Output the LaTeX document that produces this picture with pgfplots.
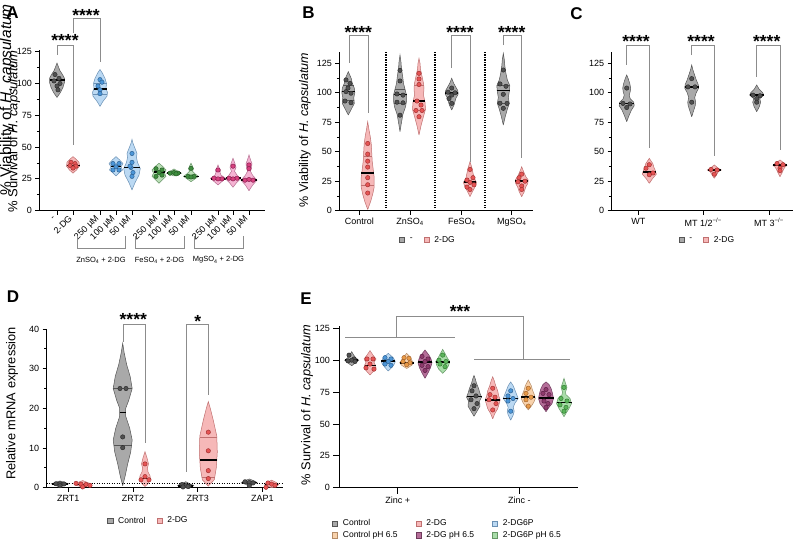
\documentclass[border=0pt]{standalone}
\usepackage{pgfplots}
\pgfplotsset{compat=1.18}
\usepackage{fontspec}
\setmainfont{Liberation Sans}

\definecolor{gfill}{HTML}{A9A9A9}\definecolor{gedge}{HTML}{555555}
\definecolor{gpt}{HTML}{505050}\definecolor{gptd}{HTML}{2A2A2A}
\definecolor{rfill}{HTML}{F6B8B8}\definecolor{redge}{HTML}{C07070}
\definecolor{rpt}{HTML}{E65454}\definecolor{rptd}{HTML}{9E2E2E}
\definecolor{bfill}{HTML}{BBD9F3}\definecolor{bedge}{HTML}{6A90B4}
\definecolor{bpt}{HTML}{4C96D8}\definecolor{bptd}{HTML}{2A5E90}
\definecolor{grfill}{HTML}{B8DDB4}\definecolor{gredge}{HTML}{6A966A}
\definecolor{grpt}{HTML}{3F8F3F}\definecolor{grptd}{HTML}{245A24}
\definecolor{mfill}{HTML}{F5B3D3}\definecolor{medge}{HTML}{B46E90}
\definecolor{mpt}{HTML}{D8407F}\definecolor{mptd}{HTML}{8A2050}
\definecolor{pfill}{HTML}{F8D2AC}\definecolor{pedge}{HTML}{B48C68}
\definecolor{ppt}{HTML}{E89A48}\definecolor{pptd}{HTML}{A0602A}
\definecolor{vfill}{HTML}{B56E99}\definecolor{vedge}{HTML}{6E3A5C}
\definecolor{vpt}{HTML}{8E3A6C}\definecolor{vptd}{HTML}{5A1E44}
\definecolor{lgfill}{HTML}{A9DDA9}\definecolor{lgedge}{HTML}{669866}
\definecolor{lgpt}{HTML}{5AB45A}\definecolor{lgptd}{HTML}{2E7A2E}
\definecolor{brk}{HTML}{8C8C8C}

\newcommand\vio[4]{%
  \gdef\vR{}\gdef\vL{}%
  \foreach \yy/\ww in {#4}{%
    \pgfmathsetmacro\xr{#1+\ww}%
    \pgfmathsetmacro\xl{#1-\ww}%
    \xdef\vR{\vR(\xr,\yy)}%
    \xdef\vL{(\xl,\yy)\vL}}%
  \edef\vtmp{\noexpand\addplot[fill=#2,draw=#3,line width=0.5pt] coordinates {\vR\vL};}%
  \vtmp}
\newcommand\hl[4]{%
  \pgfmathsetmacro\xa{#1-#2}\pgfmathsetmacro\xb{#1+#2}%
  \edef\vtmp{\noexpand\addplot[#4] coordinates {(\xa,#3)(\xb,#3)};}\vtmp}
\newcommand\pts[3]{\addplot[only marks,mark=*,mark size=2.2pt,mark options={fill=#1,draw=#2,line width=0.45pt}] coordinates {#3};}
\newcommand\lsq[2]{\addlegendimage{legend image code/.code={\draw[fill=#1,draw=#2,line width=0.5pt] (0pt,-2.6pt) rectangle (5.2pt,2.6pt);}}}

\pgfplotsset{
 panel/.style={scale only axis, anchor=south west, axis lines=left,
   axis line style={line width=1.3pt,-}, tick align=outside,
   major tick length=4pt, minor tick length=2.5pt,
   tick style={black,line width=0.9pt}, clip=false, ymin=0,
   tick label style={font=\fontsize{9}{10}\selectfont},
   /pgf/number format/assume math mode=true,
   legend style={draw=none, fill=none, font=\fontsize{8.5}{9}\selectfont, anchor=center,
     /tikz/every odd column/.append style={column sep=3pt},
     /tikz/every even column/.append style={column sep=9pt}},
   legend cell align=left},
 med/.style={black,line width=1.6pt},
 qt/.style={#1,line width=0.5pt},
}
\tikzset{stars/.style={font=\fontsize{17.5}{17.5}\selectfont\bfseries, anchor=base, inner sep=0pt}}

\begin{document}
\begin{tikzpicture}
\useasboundingbox (0,0) rectangle (799pt,547pt);

%%%%%%%%%%%%%%%% Panel A
\begin{axis}[panel, at={(39.5pt,336.3pt)}, width=225.5pt, height=160.3pt,
  xmin=39.5, xmax=265, ymax=126, ytick={0,25,...,125}, minor y tick num=1,
  xtick={57,73,100,116,132,159,174,191,218,233,249},
  xticklabels={-,2-DG,250 µM,100 µM,50 µM,250 µM,100 µM,50 µM,250 µM,100 µM,50 µM},
  xticklabel style={rotate=45,anchor=east}]
\vio{57}{gfill}{gedge}{89/0,93/3.5,97/6,101/7.5,104/7.5,107/5.5,110/3,113/1.5,116/0}
\pts{gpt}{gptd}{(55,107)(59,104)(54,102)(60,100)(57,98)(58,95)}
\hl{57}{7.5}{102.5}{med}
\vio{73}{rfill}{redge}{29.5/0,32/3.5,35/6.5,38/6,40.5/3,42.5/0}
\pts{rpt}{rptd}{(71,38)(75,37)(70,35.5)(76,35)(73,33.5)}
\hl{73}{6.5}{35.5}{med}
\vio{100}{bfill}{bedge}{82/0,86/3,90/7,93/7.5,96/6,100/6.5,104/5,108/2.5,111/0}
\hl{100}{7.2}{91.5}{qt=bedge}\hl{100}{6.5}{100}{qt=bedge}
\pts{bpt}{bptd}{(100,103)(102,101)(98,98)(100,95)(100,92)}
\hl{100}{6.5}{95.5}{med}
\vio{116}{bfill}{bedge}{27.3/0,30/3.5,32/6.5,34.5/5,37/7,40/3.5,42.5/0}
\pts{bpt}{bptd}{(113,37)(119,37)(116,34.5)(113,32)(119,32)}
\hl{116}{5.2}{34.6}{med}
\vio{132}{bfill}{bedge}{16.3/0,22/3,28/7,33/8.3,38/5.5,42/4.5,45/5,49/3,53/1,56/0}
\pts{bpt}{bptd}{(132,45)(132,38)(131,34)(133,30)(132,27)(130,35)}
\hl{132}{8}{34}{med}
\vio{159}{grfill}{gredge}{21.5/0,24/3,27/7,29.5/5.5,32/7,35/3.5,37.3/0}
\pts{grpt}{grptd}{(156,33)(162,32)(159,30)(156,27)(162,28)}
\hl{159}{5.5}{30.2}{med}
\vio{174}{grfill}{gredge}{27.3/0,28.5/4,29.5/7.5,30.5/5,32.8/0}
\pts{grpt}{grptd}{(170,29.5)(174,30)(178,29.5)(176,29)}
\hl{174}{7}{29.7}{med}
\vio{191}{grfill}{gredge}{22.8/0,25/4,27/7.5,29/4,31/1.5,33/2.5,35/1.5,37.3/0}
\pts{grpt}{grptd}{(191,33.3)(188,27)(194,27)(191,26.5)}
\hl{191}{7.5}{27}{med}
\vio{218}{mfill}{medge}{20.2/0,23/4,25.5/7.5,28/3,30/2,32/2.5,34/1,35.9/0}
\pts{mpt}{mptd}{(218,32)(214,25.5)(222,25)(218,25)}
\hl{218}{7.5}{25}{med}
\vio{233}{mfill}{medge}{18.4/0,22/3.5,25/7.5,28/4,31/1.5,34/3,37/2,41.2/0}
\pts{mpt}{mptd}{(233,35)(229,25.5)(237,25.5)(233,25)}
\hl{233}{7.5}{25.5}{med}
\vio{249}{mfill}{medge}{15.7/0,20/3.5,24/8,28/3.5,31/1.5,34/2.5,37/3,40/1.5,43.8/0}
\pts{mpt}{mptd}{(249,36)(249,33)(245,24)(253,24)(249,24.5)}
\hl{249}{8}{24}{med}
% brackets
\draw[brk,line width=0.8pt] (axis cs:57,122.4) -- (axis cs:57,130.3) -- (axis cs:73,130.3) -- (axis cs:73,51.7);
\draw[brk,line width=0.8pt] (axis cs:73,139.7) -- (axis cs:73,151.5) -- (axis cs:100,151.5) -- (axis cs:100,117);
\node[stars] at (axis cs:65,129) {****};
\node[stars] at (axis cs:86,148.7) {****};
% group brackets
\draw[brk,line width=0.8pt] (axis cs:77,-19.9) -- (axis cs:77,-29.3) -- (axis cs:125,-29.3) -- (axis cs:125,-19.9);
\draw[brk,line width=0.8pt] (axis cs:135,-19.9) -- (axis cs:135,-29.3) -- (axis cs:184,-29.3) -- (axis cs:184,-19.9);
\draw[brk,line width=0.8pt] (axis cs:194,-19.9) -- (axis cs:194,-29.3) -- (axis cs:243,-29.3) -- (axis cs:243,-19.9);
\node[font=\fontsize{7.5}{8}\selectfont] at (axis cs:101,-38.8) {ZnSO\textsubscript{4} + 2-DG};
\node[font=\fontsize{7.5}{8}\selectfont] at (axis cs:159.5,-38.8) {FeSO\textsubscript{4} + 2-DG};
\node[font=\fontsize{7.5}{8}\selectfont] at (axis cs:218.5,-38.8) {MgSO\textsubscript{4} + 2-DG};
\end{axis}

%%%%%%%%%%%%%%%% Panel B
\begin{axis}[panel, at={(339.3pt,336.3pt)}, width=193.7pt, height=159.2pt,
  xmin=339.3, xmax=533, ymax=135, ytick={0,25,...,125}, minor y tick num=1,
  xtick={359.3,410,461.7,511.7},
  xticklabels={Control,ZnSO\textsubscript{4},FeSO\textsubscript{4},MgSO\textsubscript{4}},
  legend columns=2, legend style={at={(0.458,-0.184)}},
  legend entries={-,2-DG}]
\lsq{gfill}{gedge}\lsq{rfill}{redge}
\addplot[black,line width=1.3pt,dash pattern=on 1.2pt off 1.3pt] coordinates {(386,0)(386,135)};
\addplot[black,line width=1.3pt,dash pattern=on 1.2pt off 1.3pt] coordinates {(435,0)(435,135)};
\addplot[black,line width=1.3pt,dash pattern=on 1.2pt off 1.3pt] coordinates {(485,0)(485,135)};
\vio{348.3}{gfill}{gedge}{81.2/0,86/3,91/6,96/5.5,100/6.5,104/6,108/4,112/3,115/1.5,117.9/0}
\hl{348.3}{5.8}{93.5}{qt=gedge}\hl{348.3}{5.5}{106.5}{qt=gedge}
\pts{gpt}{gptd}{(346,110.9)(350,108)(346,101)(351,99.6)(345,93)(351,91.6)(348,104)}
\hl{348.3}{6.5}{101}{med}
\vio{367.7}{rfill}{redge}{1/0,8/3,14/5,20/6.5,28/6.5,35/5.5,42/4.5,50/4,57/3.5,63/2.5,70/1,75.5/0}
\hl{367.7}{6.5}{21.5}{qt=redge}\hl{367.7}{4.2}{46}{qt=redge}
\pts{rpt}{rptd}{(367.7,57)(367.7,48)(367.7,42)(367.7,37)(367.7,28)(367.7,22)(367.7,15)}
\hl{367.7}{6.3}{32}{med}
\vio{400}{gfill}{gedge}{67/0,75/1.5,82/3,88/5.5,93/6.5,98/6.5,103/5,108/3.5,115/2.5,120/1.5,126/1,132/0}
\hl{400}{6.3}{91.5}{qt=gedge}\hl{400}{5}{103}{qt=gedge}
\pts{gpt}{gptd}{(400,119)(400,110)(397,99)(403,98)(397,92)(403,91.5)(400,81)}
\hl{400}{6.5}{98.5}{med}
\vio{419}{rfill}{redge}{64.2/0,72/2,80/4.5,86/6.5,92/6,98/4.5,104/5,108/4.5,114/3,120/1.5,125/1,129.2/0}
\hl{419}{6.3}{85.5}{qt=redge}\hl{419}{4.8}{106}{qt=redge}
\pts{rpt}{rptd}{(419,116.5)(419,111.7)(419,107)(417,93)(421,89.6)(416,85)(422,85)(419,79.7)}
\hl{419}{5.8}{93}{med}
\vio{451.7}{gfill}{gedge}{85.4/0,90/2.5,95/4,99/6.5,102/6,105/4,108/2,112.3/0}
\pts{gpt}{gptd}{(451.7,104)(448,100.5)(455,100)(451.7,98)(449,95)(451.7,91)}
\hl{451.7}{6.5}{100}{med}
\vio{470}{rfill}{redge}{11.9/0,17/3,21/5.5,24/6.5,28/4,32/3,36/2,41.6/0}
\pts{rpt}{rptd}{(470,35)(473,28)(467,26)(470,24)(474,22)(467,20)(470,18)}
\hl{470}{6.3}{24.5}{med}
\vio{503.3}{gfill}{gedge}{72.7/0,80/2,86/4,91/6,96/5,101/6,106/6.5,111/4,117/2.5,123/1.5,128/1,133.5/0}
\hl{503.3}{6}{91.5}{qt=gedge}\hl{503.3}{6.4}{106.5}{qt=gedge}
\pts{gpt}{gptd}{(503.3,119.3)(500,107.5)(506,105.5)(503.3,98.7)(500,91.1)(503.3,86.8)(507,91)}
\hl{503.3}{6.2}{102}{med}
\vio{521.7}{rfill}{redge}{11.9/0,16/2.5,20/4,23/6,26/6.5,29/4,32/2.5,35/1,37.3/0}
\pts{rpt}{rptd}{(521.7,31)(519,28)(525,25)(518,24.5)(521.7,21)(521.7,18)}
\hl{521.7}{6.4}{25}{med}
\draw[brk,line width=0.8pt] (axis cs:349.3,125.5) -- (axis cs:349.3,149) -- (axis cs:368.3,149) -- (axis cs:368.3,83);
\draw[brk,line width=0.8pt] (axis cs:451.7,120.8) -- (axis cs:451.7,149) -- (axis cs:470,149) -- (axis cs:470,41.6);
\draw[brk,line width=0.8pt] (axis cs:503.3,140.5) -- (axis cs:503.3,149) -- (axis cs:521.7,149) -- (axis cs:521.7,44.7);
\node[stars] at (axis cs:358.3,146.2) {****};
\node[stars] at (axis cs:460,146.2) {****};
\node[stars] at (axis cs:511.7,146.2) {****};
\end{axis}

%%%%%%%%%%%%%%%% Panel C
\begin{axis}[panel, at={(611.7pt,336.3pt)}, width=181.3pt, height=159.2pt,
  xmin=611.7, xmax=793, ymax=135, ytick={0,25,...,125}, minor y tick num=1,
  xtick={638.3,703.3,769},
  xticklabels={WT,MT 1/2\textsuperscript{−/−},MT 3\textsuperscript{−/−}},
  legend columns=2, legend style={at={(0.528,-0.184)}},
  legend entries={-,2-DG}]
\lsq{gfill}{gedge}\lsq{rfill}{redge}
\vio{626.7}{gfill}{gedge}{75.5/0,80/2,85/4.5,89/7.5,92/7,95/3.5,98/2.5,101/3.5,104/4,108/3,112/1.5,115.1/0}
\pts{gpt}{gptd}{(626.7,104)(623,91)(630,90.5)(626.7,87.5)}
\hl{626.7}{7.3}{90.8}{med}
\vio{649.3}{rfill}{redge}{23.2/0,27/3,31/7,34/6,37/4.5,40/3.5,42.5/1.5,44.4/0}
\pts{rpt}{rptd}{(649.3,39)(646,36)(653,32)(649.3,30.5)}
\hl{649.3}{6.3}{33}{med}
\vio{691.7}{gfill}{gedge}{79.7/0,85/2,89/3.5,92/4,96/3,100/4.5,104/7,107/6.5,111/4.5,116/2.5,120/1,123.6/0}
\pts{gpt}{gptd}{(691.7,112)(688,105)(695,105)(691.7,92)}
\hl{691.7}{7}{105}{med}
\vio{714.3}{rfill}{redge}{27.5/0,30/2,33/4,34.5/7,36/4,38.8/0}
\pts{rpt}{rptd}{(711,35)(717,34.5)(714.3,31)}
\hl{714.3}{6.8}{34.7}{med}
\vio{756.7}{gfill}{gedge}{84/0,88/2.5,92/4,95/3,98/7,100/6,103/2.5,106.6/0}
\pts{gpt}{gptd}{(753,98)(760,97.5)(756.7,95)(756.7,92)}
\hl{756.7}{7}{98.3}{med}
\vio{780}{rfill}{redge}{28.8/0,32/2,35/3.5,37/5,38.5/7,40.5/4,43/0}
\pts{rpt}{rptd}{(777,40)(783,39)(780,36)(780,34)}
\hl{780}{7}{38.7}{med}
\draw[brk,line width=0.8pt] (axis cs:626.7,123.6) -- (axis cs:626.7,140.5) -- (axis cs:649.3,140.5) -- (axis cs:649.3,52.9);
\draw[brk,line width=0.8pt] (axis cs:691.7,132) -- (axis cs:691.7,140.5) -- (axis cs:714.3,140.5) -- (axis cs:714.3,46.4);
\draw[brk,line width=0.8pt] (axis cs:756.7,113.7) -- (axis cs:756.7,140.5) -- (axis cs:780,140.5) -- (axis cs:780,51.2);
\node[stars] at (axis cs:636,138.5) {****};
\node[stars] at (axis cs:701,138.5) {****};
\node[stars] at (axis cs:766.7,138.5) {****};
\end{axis}

%%%%%%%%%%%%%%%% Panel D
\begin{axis}[panel, at={(46.7pt,59.3pt)}, width=236.3pt, height=158.7pt,
  xmin=46.7, xmax=283, ymax=40, ytick={0,10,...,40}, minor y tick num=1,
  xtick={68.3,133,197.7,262.4},
  xticklabels={ZRT1,ZRT2,ZRT3,ZAP1},
  legend columns=2, legend style={at={(0.431,-0.208)}},
  legend entries={Control,2-DG}]
\lsq{gfill}{gedge}\lsq{rfill}{redge}
\vio{60}{gfill}{gedge}{0.2/0,0.7/6,1/8.5,1.3/5,1.7/0}
\pts{gpt}{gptd}{(56,1)(60,1)(64,0.95)(60,0.5)}
\hl{60}{8}{1}{med}
\vio{82.7}{rfill}{redge}{0.1/0,0.5/5,0.9/8.5,1.3/5,1.8/0}
\pts{rpt}{rptd}{(76,1.1)(81,0.9)(86,0.8)(90,0.6)(82.7,0.2)}
\hl{82.7}{8}{0.8}{med}
\vio{122.7}{gfill}{gedge}{0.5/0,3/2.5,6/5,9/8,12/9.5,15/7,18/3,20/3,22/6,25/9.5,28/7.5,31/4,34/1.5,36.4/0}
\hl{122.7}{9}{10.7}{qt=gedge}\hl{122.7}{9.5}{25}{qt=gedge}
\pts{gpt}{gptd}{(120,25)(126,25)(122.7,12.8)(122.7,10.1)}
\hl{122.7}{3}{19}{med}
\vio{145}{rfill}{redge}{0.3/0,1/3,2/5.5,3/5,4/3,5/2.5,6/3.5,7.5/2,9.1/0}
\pts{rpt}{rptd}{(145,6)(145,2.8)(141,2)(149,2)}
\hl{145}{5.5}{2.3}{med}
\vio{185.7}{gfill}{gedge}{0/0,0.3/7,0.6/8,1/4,1.5/0}
\pts{gpt}{gptd}{(182,0.8)(185.7,0.5)(189,0.4)(183,0.2)(188,0.3)}
\hl{185.7}{7.5}{0.4}{med}
\vio{208.3}{rfill}{redge}{0.4/0,2/6,5/8,9/9,13/8.5,17/5,20/2,21.7/0}
\hl{208.3}{6.5}{2.7}{qt=redge}\hl{208.3}{8.5}{12.7}{qt=redge}
\pts{rpt}{rptd}{(208.3,14)(208.3,9.3)(208.3,4.3)(208.3,2.3)}
\hl{208.3}{8.5}{7}{med}
\vio{249.3}{gfill}{gedge}{0.3/0,0.8/3,1.2/8,1.6/6,2.2/0}
\pts{gpt}{gptd}{(245,1.5)(249.3,1.3)(253,1.2)(249.3,0.5)}
\hl{249.3}{7.5}{1.3}{med}
\vio{271.7}{rfill}{redge}{0/0,0.5/6,0.9/7,1.4/4,1.9/0}
\pts{rpt}{rptd}{(268,1.2)(271.7,0.9)(275,0.6)(266,0.1)}
\hl{271.7}{6.5}{0.8}{med}
\addplot[black,line width=1.2pt,dash pattern=on 1.2pt off 1.3pt] coordinates {(46.7,1)(283,1)};
\draw[brk,line width=0.8pt] (axis cs:123.3,36.8) -- (axis cs:123.3,41.2) -- (axis cs:145.7,41.2) -- (axis cs:145.7,11.2);
\draw[brk,line width=0.8pt] (axis cs:186.7,4) -- (axis cs:186.7,41.2) -- (axis cs:208.3,41.2) -- (axis cs:208.3,23.4);
\node[stars] at (axis cs:133.3,40.9) {****};
\node[stars] at (axis cs:197.7,40.4) {*};
\end{axis}

%%%%%%%%%%%%%%%% Panel E
\begin{axis}[panel, at={(339.3pt,59.3pt)}, width=239pt, height=161.9pt,
  xmin=339.3, xmax=578.3, ymax=127, ytick={0,25,...,125},
  xtick={397.7,519.3}, xticklabels={Zinc +,Zinc -}, major tick length=6pt,
  legend columns=3, legend style={at={(0.453,-0.258)},
    /tikz/every even column/.append style={column sep=16pt}},
  legend entries={Control,2-DG,2-DG6P,Control pH 6.5,2-DG pH 6.5,2-DG6P pH 6.5}]
\lsq{gfill}{gedge}\lsq{rfill}{redge}\lsq{bfill}{bedge}\lsq{pfill}{pedge}\lsq{vfill}{vedge}\lsq{lgfill}{lgedge}
% Zinc +
\vio{351.7}{gfill}{gedge}{95.7/0,98/4,100/7,102/4,104/2,106.7/0}
\pts{gpt}{gptd}{(349,104)(354,101)(351.7,100)(348,99.5)(355,99)}
\hl{351.7}{6.5}{100}{med}
\vio{370}{rfill}{redge}{88.4/0,91/3,94/6,96/5.5,98/4,101/6,104/3,107.5/0}
\pts{rpt}{rptd}{(367,101)(373,101)(370,97)(366,94)(374,93)}
\hl{370}{5.5}{96}{med}
\vio{388.3}{bfill}{bedge}{91.5/0,94/3,97/6,99/7,102/5,105.4/0}
\pts{bpt}{bptd}{(385,102)(391,101)(388.3,99)(385,97)(391,96)}
\hl{388.3}{7}{99.3}{med}
\vio{406.7}{pfill}{pedge}{93.5/0,96/5,98/7,100/5,102/4,105.4/0}
\pts{ppt}{pptd}{(404,102)(409,101.5)(403,99)(410,98)(406.7,96.5)}
\hl{406.7}{7}{98}{med}
\vio{425}{vfill}{vedge}{85.8/0,90/3,94/5.5,98/7,101/6,104/4,108/0}
\pts{vpt}{vptd}{(422,103)(428,101)(425,99)(422,96)(428,95)(425,92)}
\hl{425}{7}{98.8}{med}
\vio{442.7}{lgfill}{lgedge}{89.7/0,93/4,96/6,99/7,102/4.5,105/2.5,108.5/0}
\pts{lgpt}{lgptd}{(442.7,104)(439,100)(446,99)(440,97)(445,95)}
\hl{442.7}{7}{98.5}{med}
% Zinc -
\vio{474}{gfill}{gedge}{56/0,60/3,64/6,68/5.5,71/7.5,74/6,78/4.5,82/2.5,86/1,88/0}
\pts{gpt}{gptd}{(474,80)(472,76)(476,72)(471,69)(477,66)(474,62)}
\hl{474}{7.5}{71.5}{med}
\vio{492.7}{rfill}{redge}{54/0,58/2,62/5,66/6.5,69/7.5,72/6,76/5,80/3,84/1.5,87/0}
\pts{rpt}{rptd}{(492.7,78)(490,73)(495,71)(489,69)(496,66)(492.7,61)}
\hl{492.7}{7.5}{69}{med}
\vio{510.7}{bfill}{bedge}{53/0,57/2.5,60/3.5,63/2.5,66/4,70/7.5,73/6,77/4,80/2.5,83/0}
\pts{bpt}{bptd}{(510.7,76)(508,72)(513,70)(508,68)(510.7,60)}
\hl{510.7}{7.5}{70}{med}
\vio{528.3}{pfill}{pedge}{61/0,64/3,67/5.5,70/7,73/6,77/4,80/3,84.5/0}
\pts{ppt}{pptd}{(528.3,78)(526,74)(531,71)(526,69)(528.3,64)}
\hl{528.3}{7}{71}{med}
\vio{546}{vfill}{vedge}{59.6/0,63/3,66/6,70/7.5,74/6.5,78/5,81/3,83/0}
\pts{vpt}{vptd}{(546,77)(543,74)(549,73)(544,68)(548,66)(546,63)}
\hl{546}{7.5}{70.5}{med}
\vio{564}{lgfill}{lgedge}{55.7/0,59/2.5,62/5,66/7.5,70/6,73/2,75/1.5,78.7/3,82/1.5,85.8/0}
\pts{lgpt}{lgptd}{(564,78.7)(561,70)(567,68)(560,65)(566,63)(564,60)}
\hl{564}{7.5}{66.7}{med}
\draw[brk,line width=0.9pt] (axis cs:345,117.6) -- (axis cs:455,117.6);
\draw[brk,line width=0.9pt] (axis cs:474,100.7) -- (axis cs:570,100.7);
\draw[brk,line width=0.9pt] (axis cs:396,117.6) -- (axis cs:396,134) -- (axis cs:523.3,134) -- (axis cs:523.3,100.7);
\node[stars] at (axis cs:460,133.6) {***};
\end{axis}

%%%%%%%%%%%%%%%% labels
\node[font=\fontsize{17}{17}\selectfont\bfseries] at (12.5pt,534.5pt) {A};
\node[font=\fontsize{17}{17}\selectfont\bfseries] at (308.5pt,534pt) {B};
\node[font=\fontsize{17}{17}\selectfont\bfseries] at (576.5pt,533.5pt) {C};
\node[font=\fontsize{17}{17}\selectfont\bfseries] at (13pt,250.5pt) {D};
\node[font=\fontsize{17}{17}\selectfont\bfseries] at (306pt,248.5pt) {E};
\node[rotate=90,font=\fontsize{15.5}{16}\selectfont] at (7pt,447pt) {\% Viability of \textit{H. capsulatum}};
\node[rotate=90,font=\fontsize{13}{14}\selectfont] at (14pt,415.5pt) {\% Survival of \textit{H. capsulatum}};
\node[rotate=90,font=\fontsize{12.5}{13}\selectfont] at (305pt,417pt) {\% Viability of \textit{H. capsulatum}};
\node[rotate=90,font=\fontsize{12.8}{13}\selectfont] at (12pt,143.5pt) {Relative mRNA expression};
\node[rotate=90,font=\fontsize{12.8}{13}\selectfont] at (307pt,142pt) {\% Survival of \textit{H. capsulatum}};
\end{tikzpicture}
\end{document}
